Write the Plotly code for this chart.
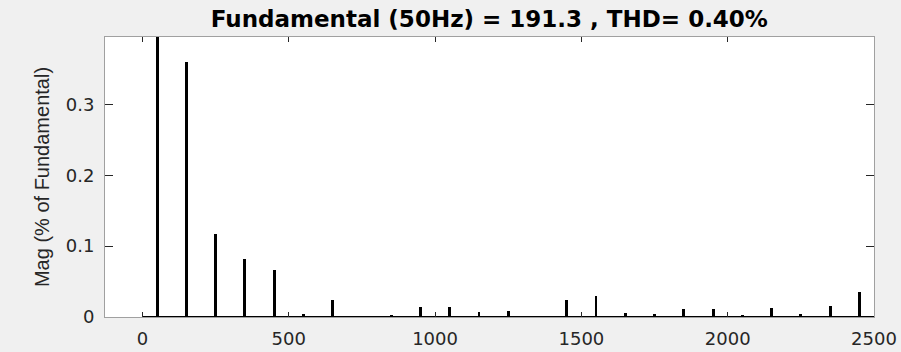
import plotly.graph_objects as go

# Harmonic frequencies (Hz) and magnitudes (% of fundamental)
freqs = [50, 150, 250, 350, 450, 550, 650, 750, 850, 950, 1050, 1150, 1250,
         1350, 1450, 1550, 1650, 1750, 1850, 1950, 2050, 2150, 2250, 2350, 2450]
mags = [100.0, 0.360, 0.117, 0.082, 0.0665, 0.0047, 0.0236, 0.0006, 0.0024,
        0.0146, 0.0146, 0.0066, 0.0085, 0.0003, 0.024, 0.030, 0.0057, 0.0047,
        0.0113, 0.0113, 0.0033, 0.013, 0.0047, 0.015, 0.0354]

x_ticks = [0, 500, 1000, 1500, 2000, 2500]
x_tick_labels = ["0", "500", "1000", "1500", "2000", "2500"]
y_ticks = [0, 0.1, 0.2, 0.3]
y_tick_labels = ["0", "0.1", "0.2", "0.3"]
x_limits = [-128, 2500]
y_limits = [0, 0.395]
baseline_x = [0, 2500]

title_text = "Fundamental (50Hz) = 191.3 , THD= 0.40%"
y_title = "Mag (% of Fundamental)"

fig = go.Figure()
fig.add_trace(go.Scatter(x=baseline_x, y=[0, 0], mode="lines",
                         line=dict(color="black", width=2),
                         hoverinfo="skip", showlegend=False))
fig.add_trace(go.Bar(x=freqs, y=mags, width=10,
                     marker=dict(color="black", line=dict(width=0)),
                     showlegend=False))

axis_common = dict(showline=True, linecolor="#a0a0a0", linewidth=1,
                   mirror="allticks", ticks="inside", tickcolor="#262626",
                   tickwidth=1, showgrid=False, zeroline=False, automargin=False,
                   tickfont=dict(family="DejaVu Sans", size=18, color="#262626"))

fig.update_xaxes(range=x_limits, tickvals=x_ticks, ticktext=x_tick_labels,
                 ticklen=5, ticklabelstandoff=5, **axis_common)
fig.update_yaxes(range=y_limits, tickvals=y_ticks, ticktext=y_tick_labels,
                 ticklen=8, ticklabelstandoff=6,
                 title=dict(text=y_title, standoff=10,
                            font=dict(family="Liberation Sans", size=20, color="#262626")),
                 **axis_common)

fig.update_layout(
    width=901, height=352,
    margin=dict(l=105, r=27, t=37, b=35),
    paper_bgcolor="#f0f0f0",
    plot_bgcolor="white",
    bargap=0,
    title=dict(text=title_text, x=0.5431, xanchor="center", y=0.945, yanchor="middle",
               automargin=False,
               font=dict(family="DejaVu Sans", size=23, color="black", weight="bold")),
)

fig.write_html("out.html")
